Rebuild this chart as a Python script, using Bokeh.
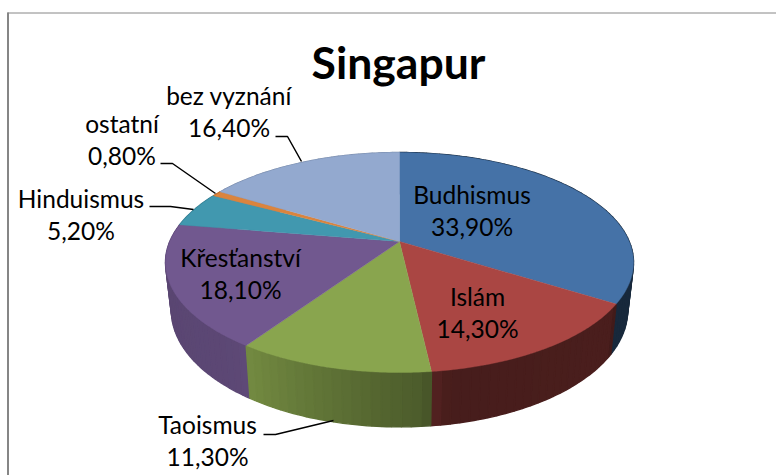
import numpy as np
from bokeh.plotting import figure
from bokeh.embed import file_html
from bokeh.resources import INLINE
from bokeh.core.properties import value

title = "Singapur"
categories = ["Budhismus", "Islám", "Taoismus", "Křesťanství", "Hinduismus", "ostatní", "bez vyznání"]
shares = [33.9, 14.3, 11.3, 18.1, 5.2, 0.8, 16.4]
colors = ["#4572A7", "#AA4643", "#89A54E", "#71588F", "#4198AF", "#DB843D", "#93A9CF"]
labels_xy = {"Budhismus": (471.5, 194), "Islám": (477, 296), "Taoismus": (207, 424),
             "Křesťanství": (240, 257), "Hinduismus": (80.5, 198), "ostatní": (121.5, 122.5),
             "bez vyznání": (228.5, 94.5)}
leaders = {"Taoismus": ([263, 275, 333], [434, 434, 420]),
           "Hinduismus": ([149, 170, 193], [206, 206, 209]),
           "ostatní": ([160, 172, 215], [163, 163, 193]),
           "bez vyznání": ([275, 287, 301], [136, 136, 161])}

W, H = 776, 475
p = figure(width=W, height=H, x_range=(0, W), y_range=(H, 0),
           output_backend="svg", toolbar_location=None, min_border=0,
           background_fill_color="white", outline_line_color=None)
p.axis.visible = False
p.grid.visible = False

CX, CY, A, B, K = 399.0, 241.0, 229.7, 106.0, 0.191
def top(theta):
    u, v = np.sin(theta), np.cos(theta)
    w = 1 + K * v
    return CX + A * u / w, CY - B * v / w
def bottom(theta):
    x, y = top(theta)
    return CX + (x - CX) * 0.975, 287.5 + (y - CY) * 1.06

edges = np.concatenate([[0], np.cumsum(shares)]) / sum(shares) * 2 * np.pi
shade_deg = [90, 122, 125, 170, 176, 214, 218, 250, 275, 360]
shade_val = [.36, .36, .44, .42, .56, .84, .82, .80, .82, .82]
def darker(hex_color, f):
    r, g, b = [int(hex_color[i:i + 2], 16) for i in (1, 3, 5)]
    return "#%02x%02x%02x" % (int(r * f), int(g * f), int(b * f))

# side wall, back to front
strips = []
for a0, a1, c in zip(edges[:-1], edges[1:], colors):
    n = max(2, int(np.degrees(a1 - a0) / 2))
    t = np.linspace(a0, a1, n + 1)
    for s0, s1 in zip(t[:-1], t[1:]):
        mid = (s0 + s1) / 2
        strips.append((np.cos(mid), s0, s1, c, mid))
strips.sort(key=lambda r: -r[0])
xs, ys, fc = [], [], []
for _, s0, s1, c, mid in strips:
    seg = np.linspace(s0, s1, 3)
    tx, ty = top(seg)
    bx, by = bottom(seg)
    xs.append(list(tx) + list(bx[::-1]))
    ys.append(list(ty) + list(by[::-1]))
    fc.append(darker(c, np.interp(np.degrees(mid), shade_deg, shade_val)))
p.patches(xs, ys, fill_color=fc, line_color=fc, line_width=1.4)

# top face
xs, ys = [], []
for a0, a1 in zip(edges[:-1], edges[1:]):
    t = np.linspace(a0, a1, 80)
    x, y = top(t)
    xs.append([CX] + list(x))
    ys.append([CY] + list(y))
p.patches(xs, ys, fill_color=colors, line_color=colors, line_width=0.4)

# frame
p.line([7.5, 7.5], [12, H], line_color="#868686", line_width=2)
p.line([7, W], [12.5, 12.5], line_color="#868686", line_width=1)

# leaders
for k, (lx, ly) in leaders.items():
    p.line(lx, ly, line_color="black", line_width=1.5)

FONT = value("Lato")
p.text([398], [61], text=[title], text_font=FONT, text_font_style="bold", text_font_size="44.5px",
       text_align="center", text_baseline="middle", text_color="black")
for name, sh in zip(categories, shares):
    x, y = labels_xy[name]
    pct = f"{sh:.2f}%".replace(".", ",")
    p.text([x, x], [y, y + 32], text=[name, pct], text_font=FONT, text_font_size="24.5px",
           text_align="center", text_baseline="middle", text_color="black")

open("out.html", "w").write(file_html(p, INLINE))
